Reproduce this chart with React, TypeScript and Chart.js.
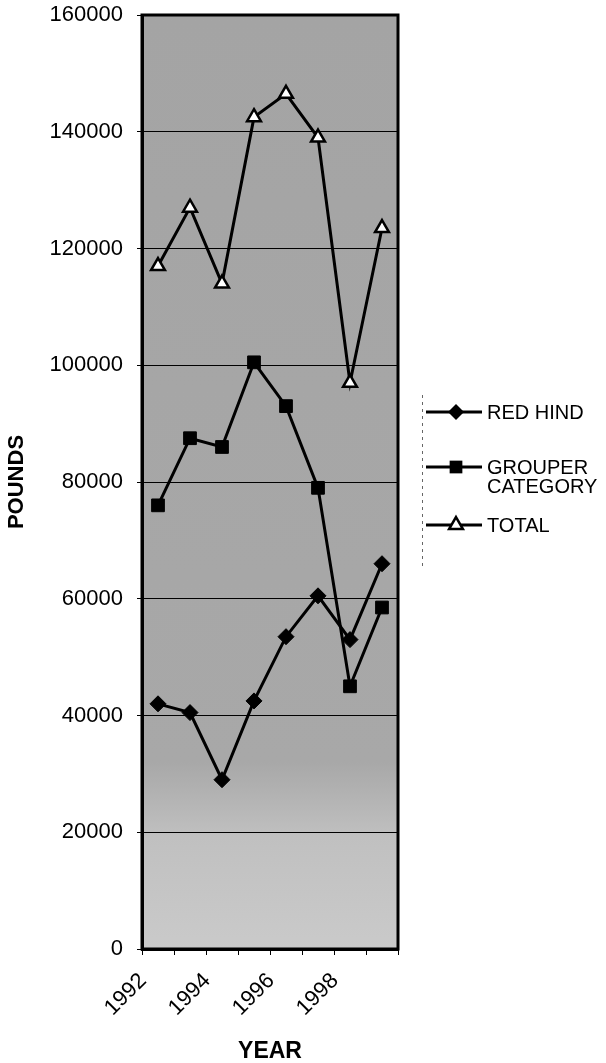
import React, { useEffect, useRef } from "react";
import { Chart, registerables } from "chart.js";

Chart.register(...registerables);

const YEARS = ["1992", "1993", "1994", "1995", "1996", "1997", "1998", "1999"];
const TICK_LABELS = ["1992", "", "1994", "", "1996", "", "1998", ""];
const RED_HIND = [42000, 40500, 29000, 42500, 53500, 60500, 53000, 66000];
const GROUPER = [76000, 87500, 86000, 100500, 93000, 79000, 45000, 58500];
const TOTAL = [117000, 127000, 114000, 142500, 146500, 139000, 97000, 123500];
const Y_MIN = 0;
const Y_MAX = 160000;
const Y_STEP = 20000;

const FONT = "'Liberation Sans', Arial, sans-serif";

function drawMarker(ctx: CanvasRenderingContext2D, style: string, x: number, y: number, r: number) {
  ctx.beginPath();
  if (style === "rectRot") {
    ctx.moveTo(x, y - r);
    ctx.lineTo(x + r, y);
    ctx.lineTo(x, y + r);
    ctx.lineTo(x - r, y);
    ctx.closePath();
    ctx.fillStyle = "#000";
    ctx.fill();
  } else if (style === "rect") {
    const s = r * Math.SQRT1_2;
    ctx.rect(x - s, y - s, 2 * s, 2 * s);
    ctx.fillStyle = "#000";
    ctx.fill();
  } else {
    for (let i = 0; i < 3; i++) {
      const a = (i * 2 * Math.PI) / 3;
      const px = x + Math.sin(a) * r;
      const py = y - Math.cos(a) * r;
      if (i === 0) ctx.moveTo(px, py);
      else ctx.lineTo(px, py);
    }
    ctx.closePath();
    ctx.fillStyle = "#fff";
    ctx.fill();
    ctx.lineWidth = 2.5;
    ctx.strokeStyle = "#000";
    ctx.stroke();
  }
}

const backgroundPlugin = {
  id: "plotBackground",
  beforeDraw(chart: any) {
    const { ctx, chartArea } = chart;
    const { left, top, right, bottom } = chartArea;
    const g = ctx.createLinearGradient(0, top, 0, bottom);
    g.addColorStop(0, "#a4a4a4");
    g.addColorStop(0.8, "#a8a8a8");
    g.addColorStop(0.88, "#c0c0c0");
    g.addColorStop(1, "#cacaca");
    ctx.save();
    ctx.fillStyle = "#fff";
    ctx.fillRect(0, 0, chart.width, chart.height);
    ctx.fillStyle = g;
    ctx.fillRect(left, top, right - left, bottom - top);
    ctx.restore();
  },
  afterDraw(chart: any) {
    const { ctx, chartArea } = chart;
    const { left, top, right, bottom } = chartArea;
    ctx.save();
    ctx.lineWidth = 3;
    ctx.strokeStyle = "#000";
    ctx.strokeRect(left, top, right - left, bottom - top);
    ctx.restore();

    // legend
    ctx.save();
    ctx.strokeStyle = "#666";
    ctx.lineWidth = 1;
    ctx.setLineDash([3, 4]);
    ctx.beginPath();
    ctx.moveTo(422.5, 395);
    ctx.lineTo(422.5, 570);
    ctx.stroke();
    ctx.setLineDash([]);
    const rows = [412, 467, 525];
    const lineGap = 19;
    chart.data.datasets.forEach((ds: any, i: number) => {
      const y = rows[i];
      ctx.strokeStyle = "#000";
      ctx.lineWidth = 3;
      ctx.beginPath();
      ctx.moveTo(426, y);
      ctx.lineTo(482, y);
      ctx.stroke();
      drawMarker(ctx, ds.pointStyle, 456, y, ds.pointRadius);
      ctx.fillStyle = "#000";
      ctx.font = `20px ${FONT}`;
      ctx.textBaseline = "middle";
      ctx.textAlign = "left";
      const lines = ds.label === "GROUPER CATEGORY" ? ["GROUPER", "CATEGORY"] : [ds.label];
      lines.forEach((t: string, k: number) => {
        ctx.fillText(t, 487, y + 1 + k * lineGap);
      });
    });
    ctx.restore();
  },
};

export default function App() {
  const ref = useRef<HTMLCanvasElement | null>(null);
  useEffect(() => {
    if (!ref.current) return;
    Chart.defaults.font.family = FONT;
    const chart = new Chart(ref.current, {
      type: "line",
      data: {
        labels: YEARS,
        datasets: [
          {
            label: "RED HIND",
            data: RED_HIND,
            borderColor: "#000",
            backgroundColor: "#000",
            borderWidth: 3,
            pointStyle: "rectRot",
            pointRadius: 8,
            pointBackgroundColor: "#000",
            pointBorderColor: "#000",
            pointBorderWidth: 1,
            tension: 0,
          },
          {
            label: "GROUPER CATEGORY",
            data: GROUPER,
            borderColor: "#000",
            backgroundColor: "#000",
            borderWidth: 3,
            pointStyle: "rect",
            pointRadius: 9,
            pointBackgroundColor: "#000",
            pointBorderColor: "#000",
            pointBorderWidth: 1,
            tension: 0,
          },
          {
            label: "TOTAL",
            data: TOTAL,
            borderColor: "#000",
            backgroundColor: "#fff",
            borderWidth: 3,
            pointStyle: "triangle",
            pointRadius: 8,
            pointBackgroundColor: "#fff",
            pointBorderColor: "#000",
            pointBorderWidth: 2.5,
            tension: 0,
          },
        ] as any,
      },
      options: {
        animation: false,
        responsive: false,
        events: [],
        layout: { padding: { top: 15, right: 208, left: 0, bottom: 0 } },
        plugins: {
          legend: { display: false },
          tooltip: { enabled: false },
        },
        scales: {
          x: {
            type: "category",
            offset: true,
            grid: {
              display: true,
              drawOnChartArea: false,
              drawTicks: true,
              tickLength: 6,
              offset: true,
              color: "#000",
              lineWidth: 1,
            },
            border: { display: true, color: "#000", width: 3 },
            ticks: {
              autoSkip: false,
              minRotation: 45,
              maxRotation: 45,
              padding: 13,
              labelOffset: -15,
              color: "#000",
              font: { size: 22, family: FONT },
              callback: (_v: any, i: number) => TICK_LABELS[i],
            },
            title: {
              display: true,
              text: "YEAR",
              color: "#000",
              font: { size: 23, weight: "bold", family: FONT, lineHeight: 1.0 },
              padding: { top: 0, bottom: 0 },
            },
            afterFit: (scale: any) => {
              scale.height = 114;
              scale.paddingLeft = 0;
              scale.paddingRight = 0;
            },
          },
          y: {
            min: Y_MIN,
            max: Y_MAX,
            grid: {
              color: "#000",
              lineWidth: 1,
              tickLength: 5,
              drawTicks: true,
            },
            border: { display: true, color: "#000", width: 3 },
            ticks: {
              stepSize: Y_STEP,
              padding: 14,
              color: "#000",
              font: { size: 22, family: FONT },
              callback: (v: any) => String(v),
            },
            title: {
              display: true,
              text: "POUNDS",
              color: "#000",
              font: { size: 22, weight: "bold", family: FONT },
              padding: { top: 4, bottom: 0 },
            },
            afterFit: (scale: any) => {
              scale.width = 142;
              scale.paddingTop = 0;
              scale.paddingBottom = 0;
            },
          },
        },
      },
      plugins: [backgroundPlugin],
    });
    return () => chart.destroy();
  }, []);

  return (
    <div style={{ position: "absolute", left: 0, top: 0, width: 606, height: 1063, background: "#fff" }}>
      <canvas ref={ref} width={606} height={1063} style={{ display: "block" }} />
    </div>
  );
}
